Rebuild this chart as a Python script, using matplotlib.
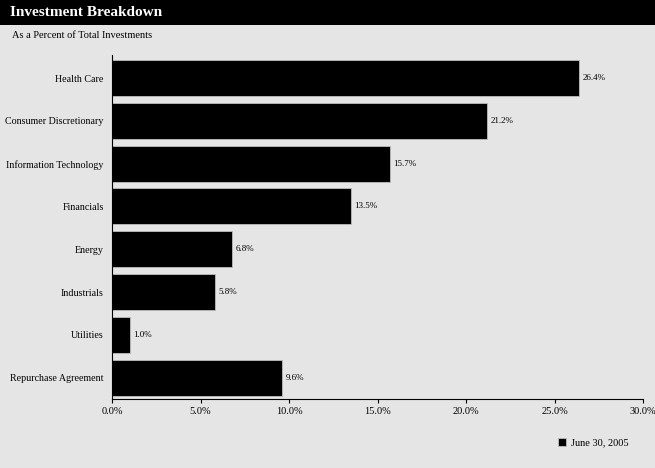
import matplotlib.pyplot as plt
from matplotlib.patches import Rectangle
from matplotlib.ticker import FuncFormatter

categories = ["Health Care", "Consumer Discretionary", "Information Technology",
              "Financials", "Energy", "Industrials", "Utilities",
              "Repurchase Agreement"]
values = [26.4, 21.2, 15.7, 13.5, 6.8, 5.8, 1.0, 9.6]
x_ticks = [0, 5, 10, 15, 20, 25, 30]
series_label = "June 30, 2005"

bg = "#e5e5e5"
plt.rcParams["font.family"] = ["Liberation Serif", "DejaVu Serif"]

fig = plt.figure(figsize=(6.55, 4.68), dpi=100, facecolor=bg)

# black header band
fig.patches.append(Rectangle((0, 1 - 25 / 468), 1, 25 / 468, transform=fig.transFigure,
                             facecolor="black", edgecolor="none", zorder=0))
fig.text(10 / 655, 1 - 13 / 468, "Investment Breakdown", color="white",
         fontsize=11, fontweight="bold", va="center", ha="left")
fig.text(12 / 655, 1 - 36 / 468, "As a Percent of Total Investments",
         fontsize=7.5, va="center", ha="left")

ax = fig.add_axes([112 / 655, 1 - 399 / 468, 531 / 655, 344 / 468])
ax.set_facecolor(bg)

pos = list(range(len(categories)))
bars = ax.barh(pos, values, height=0.84, color="black", edgecolor="#bdbdbd",
               linewidth=0.6, label=series_label)
for p, v in zip(pos, values):
    ax.text(v + 0.2, p, f"{v:.1f}%", va="center", ha="left", fontsize=6.5)

ax.set_ylim(7.5, -0.54)
ax.set_xlim(0, 30)
ax.set_yticks(pos)
ax.set_yticklabels(categories, fontsize=7.2)
ax.set_xticks(x_ticks)
ax.xaxis.set_major_formatter(FuncFormatter(lambda x, _: f"{x:.1f}%"))
ax.tick_params(axis="x", labelsize=7.5, length=3, width=0.8, direction="out", pad=3)
ax.tick_params(axis="y", length=0, pad=6)
for s in ["top", "right"]:
    ax.spines[s].set_visible(False)
ax.spines["left"].set_linewidth(0.8)
ax.spines["bottom"].set_linewidth(0.8)

fig.legend(handles=[bars], labels=[series_label], loc="center left",
           bbox_to_anchor=(553 / 655, 1 - 443 / 468), frameon=False, fontsize=7.5,
           handlelength=0.7, handleheight=0.7, handletextpad=0.5, borderpad=0)

fig.savefig("out.png", dpi=100, facecolor=bg)
